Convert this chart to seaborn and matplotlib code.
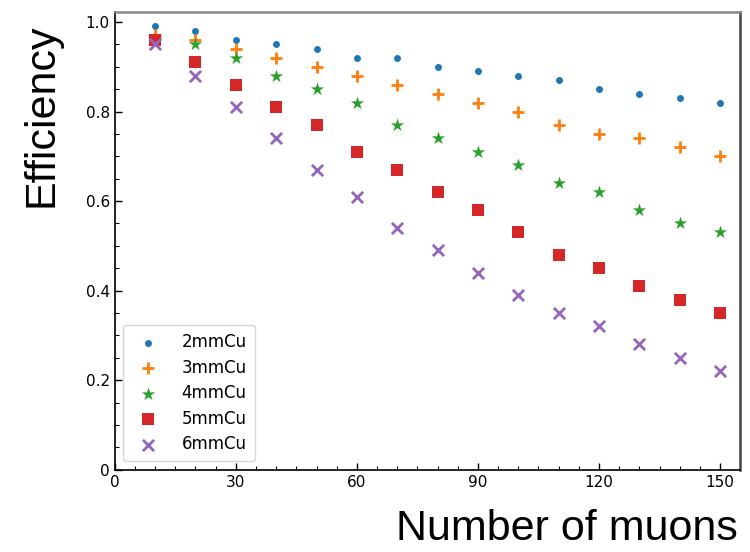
import numpy as np
import pandas as pd
import matplotlib
matplotlib.use("Agg")
import matplotlib.pyplot as plt
import seaborn as sns
from matplotlib.ticker import MultipleLocator

muons = [10, 20, 30, 40, 50, 60, 70, 80, 90, 100, 110, 120, 130, 140, 150]
eff_2mm = [0.99, 0.98, 0.96, 0.95, 0.94, 0.92, 0.92, 0.90, 0.89, 0.88, 0.87, 0.85, 0.84, 0.83, 0.82]
eff_3mm = [0.97, 0.96, 0.94, 0.92, 0.90, 0.88, 0.86, 0.84, 0.82, 0.80, 0.77, 0.75, 0.74, 0.72, 0.70]
eff_4mm = [0.96, 0.95, 0.92, 0.88, 0.85, 0.82, 0.77, 0.74, 0.71, 0.68, 0.64, 0.62, 0.58, 0.55, 0.53]
eff_5mm = [0.96, 0.91, 0.86, 0.81, 0.77, 0.71, 0.67, 0.62, 0.58, 0.53, 0.48, 0.45, 0.41, 0.38, 0.35]
eff_6mm = [0.95, 0.88, 0.81, 0.74, 0.67, 0.61, 0.54, 0.49, 0.44, 0.39, 0.35, 0.32, 0.28, 0.25, 0.22]
labels = ["2mmCu", "3mmCu", "4mmCu", "5mmCu", "6mmCu"]
xticks = [0, 30, 60, 90, 120, 150]
xticklabels = ["0", "30", "60", "90", "120", "150"]
yticks = [0, 0.2, 0.4, 0.6, 0.8, 1.0]
yticklabels = ["0", "0.2", "0.4", "0.6", "0.8", "1.0"]

series = [eff_2mm, eff_3mm, eff_4mm, eff_5mm, eff_6mm]
df = pd.concat([pd.DataFrame({"muons": muons, "eff": s, "thick": l}) for s, l in zip(series, labels)])

sns.set_style("white")
plt.rcParams["font.family"] = ["DejaVu Sans"]
plt.rcParams["text.color"] = "black"
plt.rcParams["axes.labelcolor"] = "black"

fig = plt.figure(figsize=(7.5, 5.52), dpi=100)
ax = fig.add_axes([0.153, 0.149, 0.834, 0.829])

colors = ["#1f77b4", "#ff7f0e", "#2ca02c", "#d62728", "#9467bd"]
markers = ["o", "+", "*", "s", "x"]
sizes = [25, 75, 100, 80, 65]
for lab, c, m, s in zip(labels, colors, markers, sizes):
    sub = df[df["thick"] == lab]
    kw = dict(linewidth=2) if m in ("+", "x") else dict(linewidth=0)
    sns.scatterplot(data=sub, x="muons", y="eff", color=c, marker=m, s=s, ax=ax, label=lab, **kw)

ax.set_xlim(0, 155)
ax.set_ylim(0, 1.022)
ax.set_xticks(xticks)
ax.set_xticklabels(xticklabels)
ax.set_yticks(yticks)
ax.set_yticklabels(yticklabels)
ax.xaxis.set_minor_locator(MultipleLocator(5))
ax.yaxis.set_minor_locator(MultipleLocator(0.05))
ax.tick_params(which="both", direction="in", bottom=True, left=True, top=False, right=False,
               labelsize=11, colors="black")
ax.tick_params(which="major", length=5, width=1)
ax.tick_params(which="minor", length=3, width=0.8)

for side in ["left", "bottom"]:
    ax.spines[side].set_color("black")
    ax.spines[side].set_linewidth(1.2)
ax.spines["top"].set_color("#888888")
ax.spines["top"].set_linewidth(1.8)
ax.spines["right"].set_color("#444444")
ax.spines["right"].set_linewidth(1.8)

ax.set_xlabel("Number of muons", fontsize=31, family=["Liberation Sans"], loc="right")
ax.set_ylabel("Efficiency", fontsize=31, family=["Liberation Sans"], loc="top")
ax.xaxis.set_label_coords(0.996, -0.085, transform=ax.transAxes)
ax.yaxis.set_label_coords(-0.085, 0.975, transform=ax.transAxes)

leg = ax.legend(loc="lower left", fontsize=12, frameon=True, borderpad=0.5, labelspacing=0.45,
                handletextpad=1.0, bbox_to_anchor=(0.0, 0.0))
leg.get_frame().set_edgecolor("#cccccc")
leg.get_frame().set_linewidth(1)

fig.savefig("out.png", dpi=100)
